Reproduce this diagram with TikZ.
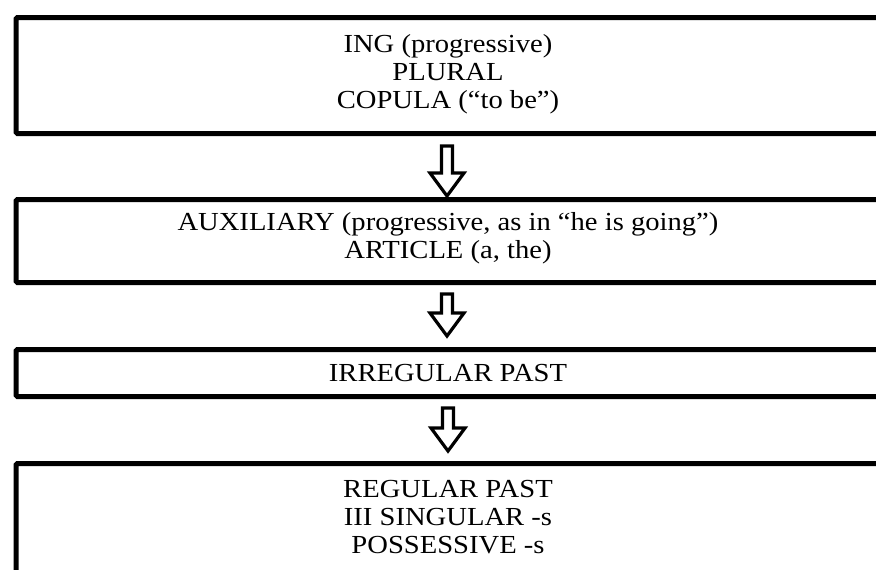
\documentclass[tikz,border=0pt]{standalone}
\usepackage{fontspec}
\setmainfont{Liberation Serif}
\tikzset{
  stage/.style={draw, line width=5pt, rounded corners=1.5pt, inner sep=0pt, outer sep=0pt, anchor=north west, minimum width=864pt},
  lbl/.style={anchor=base, align=center, inner sep=0pt, xscale=1.1, font=\fontsize{26}{27.8}\selectfont},
  blk/.style={draw, line width=3.2pt, fill=white, line join=miter},
}
\begin{document}
\begin{tikzpicture}[x=1pt,y=-1pt]
\useasboundingbox (0,0) rectangle (876,570);
\node[stage, minimum height=116pt] (b1) at (16,17.5) {};
\node[stage, minimum height=83pt] (b2) at (16,199.5) {};
\node[stage, minimum height=47pt] (b3) at (16,349.5) {};
\node[stage, minimum height=140pt] (b4) at (16,463.5) {};
\node[lbl] (t1) at (448,108) {ING (progressive)\\PLURAL\\COPULA (“to be”)};
\node[lbl] (t2) at (448,258.5) {AUXILIARY (progressive, as in “he is going”)\\ARTICLE (a, the)};
\node[lbl] (t3) at (448,381) {IRREGULAR PAST};
\node[lbl] (t4) at (448,553) {REGULAR PAST\\III SINGULAR -s\\POSSESSIVE -s};
\coordinate (a1) at (447,196);
\coordinate (a2) at (447,336);
\coordinate (a3) at (448,451);
\draw[blk] (a1) -- ++(-17,-23) -- ++(11.5,0) -- ++(0,-27) -- ++(11,0) -- ++(0,27) -- ++(11.5,0) -- cycle;
\draw[blk] (a2) -- ++(-17,-23) -- ++(11.5,0) -- ++(0,-19) -- ++(11,0) -- ++(0,19) -- ++(11.5,0) -- cycle;
\draw[blk] (a3) -- ++(-17,-23) -- ++(11.5,0) -- ++(0,-20) -- ++(11,0) -- ++(0,20) -- ++(11.5,0) -- cycle;
\end{tikzpicture}
\end{document}
